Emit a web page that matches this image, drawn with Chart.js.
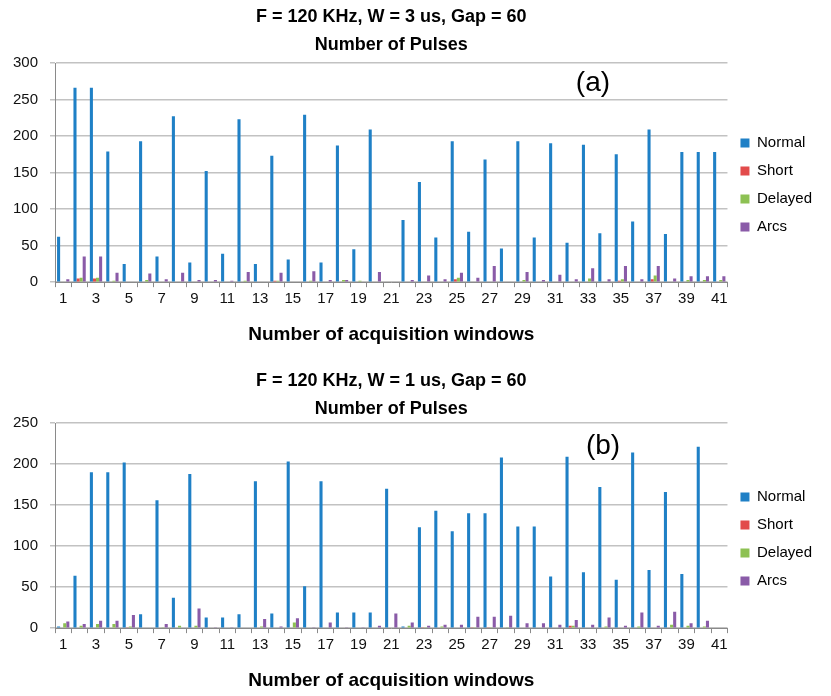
<!DOCTYPE html>
<html>
<head>
<meta charset="UTF-8">
<title>Number of Pulses</title>
<script src="https://cdn.jsdelivr.net/npm/chart.js"></script>
<style>
    body { margin: 0; background: #fff; }
    .box { position: absolute; left: 0; width: 831px; }
    #boxA { top: 0; height: 350px; }
    #boxB { top: 355px; height: 341px; }
</style>
</head>
<body>
<div class="box" id="boxA"><canvas id="chartA"></canvas></div>
<div class="box" id="boxB"><canvas id="chartB"></canvas></div>
<script>
// acquisition windows 1..41
const windows = [];
for (let i = 1; i <= 41; i++) windows.push(String(i));

// (a) W = 3 us
const normalA  = [62,266,266,179,25,193,35,227,27,152,39,223,25,173,31,229,27,187,45,209,1,85,137,61,193,69,168,46,193,61,190,54,188,67,175,83,209,66,178,178,178];
const shortA   = [0,5,5,0,0,1,0,0,0,0,0,0,0,2,0,0,0,0,0,0,0,0,1,0,4,0,0,0,0,0,0,0,1,0,2,0,4,0,0,1,0];
const delayedA = [0,6,6,2,0,3,0,1,0,1,0,2,1,2,0,2,0,3,2,0,0,1,0,0,6,0,0,0,3,0,0,0,5,0,4,0,9,0,3,3,3];
const arcsA    = [4,35,35,13,0,12,4,13,3,3,2,14,1,13,1,15,3,3,1,14,0,3,9,4,13,6,22,1,14,3,10,4,19,4,22,4,22,5,8,8,8];

// (b) W = 1 us
const normalB  = [2,64,190,190,202,17,156,37,188,13,13,17,179,18,203,51,179,19,19,19,170,2,123,143,118,140,140,208,124,124,63,209,68,172,59,214,71,166,66,221,0];
const shortB   = [0,0,0,0,1,0,0,0,0,0,0,0,0,0,0,0,0,0,0,0,0,0,1,0,0,1,1,0,0,0,0,3,0,0,0,0,0,0,0,0,0];
const delayedB = [6,3,5,5,2,0,1,3,3,0,0,0,2,0,7,0,0,0,0,0,0,3,1,2,0,1,1,1,0,0,0,3,0,2,0,2,0,4,3,2,0];
const arcsB    = [8,5,9,9,16,0,5,0,24,1,1,0,11,2,12,1,7,1,1,3,18,7,3,4,4,14,14,15,6,6,4,10,4,13,3,19,3,20,6,9,0];

const seriesNames = ['Normal', 'Short', 'Delayed', 'Arcs'];
const colors = ['#1f80c6', '#e24b4b', '#8dc153', '#8a5ba8'];

Chart.defaults.font.family = "'Liberation Sans', Arial, sans-serif";
Chart.defaults.color = '#111';

// big "(a)" / "(b)" marker inside the plot
const panelLabel = {
    id: 'panelLabel',
    afterDraw(chart, args, opts) {
        const a = chart.chartArea;
        const ctx = chart.ctx;
        ctx.save();
        ctx.font = "28px 'Liberation Sans', Arial, sans-serif";
        ctx.fillStyle = '#000';
        ctx.textAlign = 'center';
        ctx.textBaseline = 'middle';
        ctx.fillText(opts.text, a.left + opts.fx * (a.right - a.left), a.top + opts.dy);
        ctx.restore();
    }
};

function makeChart(id, title, sets, yMax, label, fx, dy, titlePad, legendShift) {
    const datasets = sets.map((d, i) => ({
        label: seriesNames[i],
        data: d,
        backgroundColor: colors[i],
        borderWidth: 0
    }));
    return new Chart(document.getElementById(id), {
        type: 'bar',
        data: { labels: windows, datasets: datasets },
        plugins: [panelLabel],
        options: {
            responsive: true,
            maintainAspectRatio: false,
            animation: false,
            categoryPercentage: 0.75,
            barPercentage: 1.0,
            layout: { padding: { left: 0, right: 9, top: 0, bottom: 0 } },
            plugins: {
                title: {
                    display: true,
                    text: title,
                    fullSize: false,
                    color: '#000',
                    font: { size: 18, weight: 'bold', lineHeight: 28 / 18 },
                    padding: titlePad
                },
                legend: {
                    position: 'right',
                    title: { display: true, text: '', padding: 0, font: { size: 10, lineHeight: legendShift / 10 } },
                    labels: {
                        boxWidth: 9,
                        boxHeight: 9,
                        padding: 13,
                        color: '#000',
                        font: { size: 15 }
                    }
                },
                tooltip: { enabled: false },
                panelLabel: { text: label, fx: fx, dy: dy }
            },
            scales: {
                x: {
                    grid: { display: true, drawOnChartArea: false, offset: true, tickLength: 5, color: '#8a8a8a' },
                    border: { color: '#8a8a8a' },
                    ticks: {
                        autoSkip: false,
                        maxRotation: 0,
                        padding: 3,
                        color: '#111',
                        font: { size: 15 },
                        callback: function (v, i) { return i % 2 === 0 ? this.getLabelForValue(v) : ''; }
                    },
                    title: {
                        display: true,
                        text: 'Number of acquisition windows',
                        color: '#000',
                        font: { size: 19, weight: 'bold', lineHeight: 1.15 },
                        padding: { top: 13, bottom: 4 }
                    }
                },
                y: {
                    min: 0,
                    max: yMax,
                    ticks: { stepSize: 50, padding: 12, color: '#111', font: { size: 15 } },
                    grid: { color: '#c2c2c2', lineWidth: 1.5, tickLength: 5 },
                    border: { color: '#8a8a8a' },
                    afterFit: function (s) { s.width = 55; }
                }
            }
        }
    });
}

makeChart('chartA', ['F = 120 KHz, W = 3 us, Gap = 60', 'Number of Pulses'],
    [normalA, shortA, delayedA, arcsA], 300, '(a)', 0.80, 20, { top: 3, bottom: 4 }, 20);
makeChart('chartB', ['F = 120 KHz, W = 1 us, Gap = 60', 'Number of Pulses'],
    [normalB, shortB, delayedB, arcsB], 250, '(b)', 0.815, 23, { top: 12, bottom: 0 }, 27);
</script>
</body>
</html>
